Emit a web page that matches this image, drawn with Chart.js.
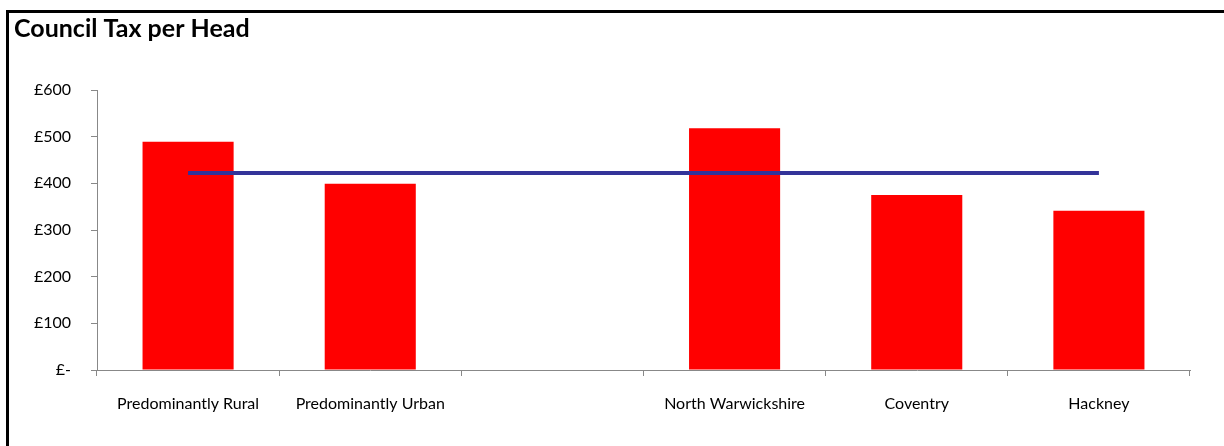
<!DOCTYPE html>
<html>
<head>
<meta charset="utf-8">
<script src="https://cdn.jsdelivr.net/npm/chart.js@4"></script>
<style>
  html, body { margin: 0; padding: 0; background: #fff; }
  #wrap { position: relative; width: 1224px; height: 446px; overflow: hidden; }
  #frame { position: absolute; left: 6px; top: 10px; right: -10px; bottom: -10px;
           border-top: 3px solid #000; border-left: 3px solid #000; pointer-events: none; }
  canvas { position: absolute; left: 0; top: 0; }
</style>
</head>
<body>
<div id="wrap">
  <canvas id="myChart" width="1224" height="446"></canvas>
  <div id="frame"></div>
</div>
<script>
// data
var categories = ["Predominantly Rural", "Predominantly Urban", "", "North Warwickshire", "Coventry", "Hackney"];
var taxPerHead = [489, 399, null, 518, 375, 341];
var averageLine = [422, 422, 422, 422, 422, 422];
var yTicks = [0, 100, 200, 300, 400, 500, 600];

var font = "Lato, 'Open Sans', sans-serif";

var ctx = document.getElementById("myChart").getContext("2d");
var myChart = new Chart(ctx, {
    data: {
        labels: categories,
        datasets: [
            { type: 'line', data: averageLine, borderColor: "#333399", borderWidth: 4,
              pointRadius: 0, fill: false, order: 0 },
            { type: 'bar', data: taxPerHead, backgroundColor: "#ff0000",
              categoryPercentage: 1, barPercentage: 0.5, order: 1 }
        ]
    },
    options: {
        responsive: false,
        animation: false,
        layout: { padding: { left: 14, right: 34, top: 0, bottom: 0 } },
        plugins: {
            legend: { display: false },
            tooltip: { enabled: false },
            title: {
                display: true, text: "Council Tax per Head", align: 'start', color: "#000",
                font: { family: font, size: 25, weight: 'bold', lineHeight: 1.2 },
                padding: { top: 14, bottom: 46 }
            }
        },
        scales: {
            x: {
                afterFit: function (s) { s.height = 76; },
                grid: { offset: true, drawOnChartArea: false, drawTicks: true, tickLength: 6, color: "#888" },
                border: { color: "#888" },
                ticks: { color: "#000", font: { family: font, size: 16 }, padding: 18, maxRotation: 0, autoSkip: false }
            },
            y: {
                min: 0, max: 600,
                afterFit: function (s) { s.width = 83; },
                afterBuildTicks: function (s) { s.ticks = yTicks.map(function (v) { return { value: v }; }); },
                grid: { drawOnChartArea: false, drawTicks: true, tickLength: 6, color: "#888" },
                border: { color: "#888" },
                ticks: {
                    color: "#000", font: { family: font, size: 16 }, padding: 20,
                    callback: function (v) { return v === 0 ? "£-" : "£" + v; }
                }
            }
        }
    }
});
</script>
</body>
</html>
